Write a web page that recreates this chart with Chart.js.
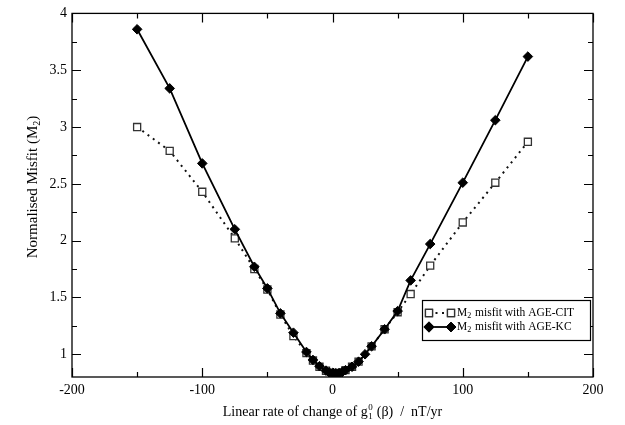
<!DOCTYPE html>
<html>
<head>
<meta charset="utf-8">
<script src="https://cdn.jsdelivr.net/npm/chart.js@4.4.0/dist/chart.umd.min.js"></script>
<style>
  html, body { margin: 0; padding: 0; background: #fff; }
</style>
</head>
<body>
<canvas id="misfitChart" width="625" height="425"></canvas>
<script>
// Data
const betaKC = [-150, -125, -100, -75, -60, -50, -40, -30, -20, -15, -10, -5, -2.5, 0, 2.5, 5, 7.5, 10, 15, 20, 25, 30, 40, 50, 60, 75, 100, 125, 150];
const misfitKC = [3.86, 3.34, 2.68, 2.10, 1.77, 1.58, 1.36, 1.19, 1.02, 0.95, 0.895, 0.856, 0.84, 0.835, 0.832, 0.835, 0.845, 0.86, 0.89, 0.935, 1.0, 1.07, 1.22, 1.38, 1.65, 1.97, 2.51, 3.06, 3.62];

const betaCIT = [-150, -125, -100, -75, -60, -50, -40, -30, -20, -15, -10, -5, 0, 5, 10, 15, 20, 30, 40, 50, 60, 75, 100, 125, 150];
const misfitCIT = [3.0, 2.79, 2.43, 2.02, 1.75, 1.57, 1.35, 1.16, 1.01, 0.945, 0.89, 0.855, 0.835, 0.835, 0.86, 0.89, 0.935, 1.07, 1.22, 1.37, 1.53, 1.78, 2.16, 2.51, 2.87];

const xTickValues = [-200, -100, 0, 100, 200];
const xMinorTicks = [-150, -50, 50, 150];
const yTickValues = [1, 1.5, 2, 2.5, 3, 3.5, 4];
const yMinorTicks = [1.25, 1.75, 2.25, 2.75, 3.25, 3.75];

const serif = '"Liberation Serif", "DejaVu Serif", serif';

// Box frame with inward ticks on all four sides (xmgrace style)
const frameTicks = {
    id: 'frameTicks',
    afterDraw(chart) {
        const ctx = chart.ctx;
        const a = chart.chartArea;
        const xs = chart.scales.x, ys = chart.scales.y;
        ctx.save();
        ctx.strokeStyle = '#000';
        ctx.lineWidth = 1.3;
        ctx.strokeRect(a.left, a.top, a.right - a.left, a.bottom - a.top);
        ctx.lineWidth = 1.2;
        ctx.beginPath();
        const xTick = (v, len) => {
            const px = Math.round(xs.getPixelForValue(v)) + 0.5;
            ctx.moveTo(px, a.bottom); ctx.lineTo(px, a.bottom - len);
            ctx.moveTo(px, a.top); ctx.lineTo(px, a.top + len);
        };
        const yTick = (v, len) => {
            const py = Math.round(ys.getPixelForValue(v)) + 0.5;
            ctx.moveTo(a.left, py); ctx.lineTo(a.left + len, py);
            ctx.moveTo(a.right, py); ctx.lineTo(a.right - len, py);
        };
        xTickValues.forEach(v => xTick(v, 9));
        xMinorTicks.forEach(v => xTick(v, 5));
        yTickValues.forEach(v => yTick(v, 9));
        yMinorTicks.forEach(v => yTick(v, 5));
        ctx.stroke();
        ctx.restore();
    }
};

// Axis titles with sub/superscripts
const axisTitles = {
    id: 'axisTitles',
    afterDraw(chart) {
        const ctx = chart.ctx;
        const a = chart.chartArea;
        ctx.save();
        ctx.fillStyle = '#000';
        ctx.textBaseline = 'alphabetic';
        ctx.textAlign = 'left';

        // x title
        const xBig = '14px ' + serif, xSmall = '9px ' + serif;
        const partA = 'Linear rate of change of g';
        const partB = ' (\u03B2)  /  nT/yr';
        ctx.font = xBig;
        const wa = ctx.measureText(partA).width;
        const wb = ctx.measureText(partB).width;
        ctx.font = xSmall;
        const ws = Math.max(ctx.measureText('0').width, ctx.measureText('1').width);
        const total = wa + ws + 1 + wb;
        const cx = (a.left + a.right) / 2;
        const by = 416;
        let x0 = cx - total / 2;
        ctx.font = xBig;
        ctx.fillText(partA, x0, by);
        ctx.font = xSmall;
        ctx.fillText('0', x0 + wa + 0.5, by - 6);
        ctx.fillText('1', x0 + wa + 0.5, by + 3);
        ctx.font = xBig;
        ctx.fillText(partB, x0 + wa + ws + 1, by);

        // y title (rotated)
        const big = '15px ' + serif, small = '10px ' + serif;
        ctx.translate(37, 187);
        ctx.rotate(-Math.PI / 2);
        const yA = 'Normalised Misfit (M';
        const yB = ')';
        ctx.font = big;
        const ya = ctx.measureText(yA).width;
        const yb = ctx.measureText(yB).width;
        ctx.font = small;
        const ysub = ctx.measureText('2').width;
        let t0 = -(ya + ysub + yb) / 2;
        ctx.font = big;
        ctx.fillText(yA, t0, 0);
        ctx.font = small;
        ctx.fillText('2', t0 + ya, 3);
        ctx.font = big;
        ctx.fillText(yB, t0 + ya + ysub, 0);
        ctx.restore();
    }
};

// Legend box inside the plot, lower right
const boxLegend = {
    id: 'boxLegend',
    afterDraw(chart) {
        const ctx = chart.ctx;
        const a = chart.chartArea;
        const bx = a.right - 171, by = a.bottom - 77, bw = 168, bh = 40;
        ctx.save();
        ctx.fillStyle = '#fff';
        ctx.fillRect(bx, by, bw, bh);
        ctx.strokeStyle = '#000';
        ctx.lineWidth = 1.2;
        ctx.strokeRect(bx + 0.5, by + 0.5, bw, bh);

        const rows = [
            { ds: chart.data.datasets[0], y: by + 13, label: ' misfit with AGE-CIT' },
            { ds: chart.data.datasets[1], y: by + 27, label: ' misfit with AGE-KC' }
        ];
        const s1 = bx + 7, s2 = bx + 29;
        rows.forEach(r => {
            const ds = r.ds;
            ctx.save();
            ctx.strokeStyle = ds.borderColor;
            ctx.lineWidth = ds.borderWidth;
            ctx.setLineDash(ds.borderDash || []);
            ctx.beginPath();
            ctx.moveTo(s1, r.y); ctx.lineTo(s2, r.y);
            ctx.stroke();
            ctx.restore();
            [s1, s2].forEach(px => {
                Chart.helpers.drawPoint(ctx, {
                    pointStyle: ds.pointStyle,
                    radius: ds.pointRadius,
                    borderWidth: ds.pointBorderWidth,
                    rotation: 0
                }, px, r.y);
                ctx.fillStyle = ds.pointBackgroundColor;
                ctx.strokeStyle = ds.pointBorderColor;
                ctx.lineWidth = ds.pointBorderWidth;
                ctx.fill();
                ctx.stroke();
            });
            ctx.fillStyle = '#000';
            ctx.textBaseline = 'middle';
            ctx.font = '11.5px ' + serif;
            const tx = bx + 35;
            ctx.fillText('M', tx, r.y);
            const mw = ctx.measureText('M').width;
            ctx.font = '8px ' + serif;
            ctx.fillText('2', tx + mw, r.y + 3);
            const sw = ctx.measureText('2').width;
            ctx.font = '11.5px ' + serif;
            ctx.fillText(r.label, tx + mw + sw + 1, r.y);
        });
        ctx.restore();
    }
};

const toPoints = (xs, ys) => xs.map((x, i) => ({ x: x, y: ys[i] }));

const ctx = document.getElementById('misfitChart').getContext('2d');
new Chart(ctx, {
    type: 'line',
    data: {
        datasets: [
            {
                label: 'M2 misfit with AGE-CIT',
                data: toPoints(betaCIT, misfitCIT),
                borderColor: '#111',
                borderWidth: 2,
                borderDash: [2, 4.5],
                pointStyle: 'rect',
                pointRadius: 5,
                pointBorderWidth: 1.3,
                pointBackgroundColor: '#fff',
                pointBorderColor: '#333',
                tension: 0,
                order: 1
            },
            {
                label: 'M2 misfit with AGE-KC',
                data: toPoints(betaKC, misfitKC),
                borderColor: '#000',
                borderWidth: 1.8,
                pointStyle: 'rectRot',
                pointRadius: 4.8,
                pointBorderWidth: 1,
                pointBackgroundColor: '#000',
                pointBorderColor: '#000',
                tension: 0,
                order: 0
            }
        ]
    },
    options: {
        responsive: false,
        animation: false,
        layout: { padding: { top: 13, right: 32, left: 0, bottom: 0 } },
        plugins: {
            legend: { display: false },
            tooltip: { enabled: false }
        },
        scales: {
            x: {
                type: 'linear',
                min: -200,
                max: 200,
                grid: { display: false, drawTicks: false },
                border: { display: false },
                afterBuildTicks: (scale) => { scale.ticks = xTickValues.map(v => ({ value: v })); },
                afterFit: (scale) => { scale.height = 48; },
                ticks: {
                    padding: 5,
                    color: '#000',
                    font: { family: serif, size: 14 },
                    maxRotation: 0,
                    callback: (value) => value.toString()
                }
            },
            y: {
                min: 0.8,
                max: 4,
                grid: { display: false, drawTicks: false },
                border: { display: false },
                afterBuildTicks: (scale) => { scale.ticks = yTickValues.map(v => ({ value: v })); },
                afterFit: (scale) => { scale.width = 72; },
                ticks: {
                    padding: 5,
                    color: '#000',
                    font: { family: serif, size: 14 },
                    callback: (value) => value.toString()
                }
            }
        }
    },
    plugins: [frameTicks, axisTitles, boxLegend]
});
</script>
</body>
</html>
